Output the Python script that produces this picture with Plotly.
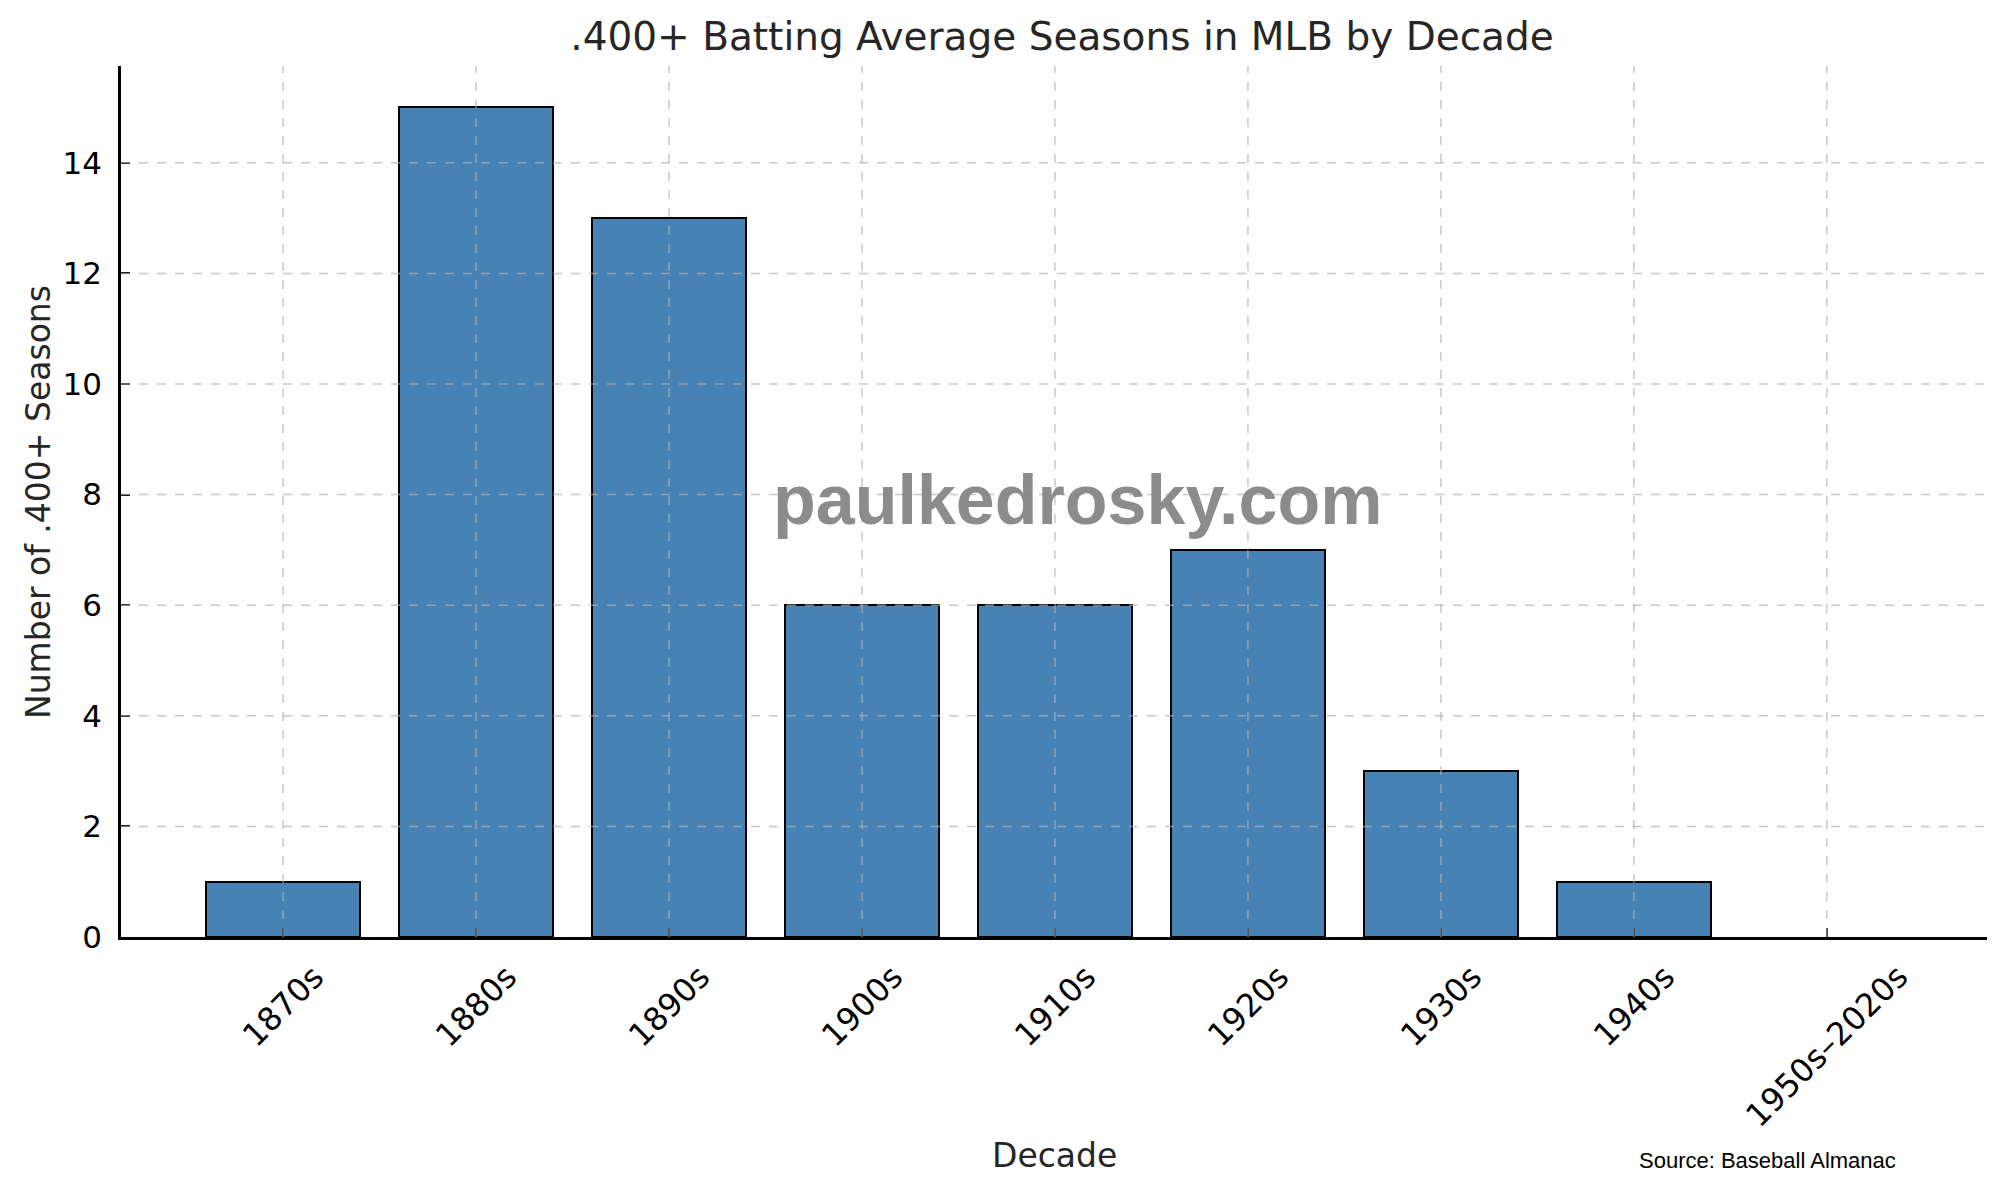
import plotly.graph_objects as go

decades = ["1870s", "1880s", "1890s", "1900s", "1910s", "1920s", "1930s", "1940s", "1950s–2020s"]
seasons = [1, 15, 13, 6, 6, 7, 3, 1, 0]
y_ticks = [0, 2, 4, 6, 8, 10, 12, 14]

FONT = "DejaVu Sans"
GRID = "rgba(176,176,176,0.7)"
xs = list(range(len(decades)))

fig = go.Figure(go.Bar(
    x=xs,
    y=seasons,
    width=0.8,
    marker=dict(color="#4682B4",
                line=dict(color="black", width=[2 if s > 0 else 0 for s in seasons])),
    hovertemplate="%{customdata}: %{y}<extra></extra>",
    customdata=decades,
))

# matplotlib draws its grid on top of the bars here, so use shapes
shapes = []
for i in xs:
    shapes.append(dict(type="line", xref="x", yref="paper", x0=i, x1=i, y0=0, y1=1,
                       line=dict(color=GRID, width=1.5, dash="dash"), layer="above"))
for v in y_ticks[1:]:
    shapes.append(dict(type="line", xref="paper", yref="y", x0=0, x1=1, y0=v, y1=v,
                       line=dict(color=GRID, width=1.5, dash="dash"), layer="above"))

# rotated tick labels centred on the ticks (matplotlib style)
tick_labels = [
    dict(text=lab, x=i, xref="x", y=0, yref="paper", yshift=-18,
         xanchor="center", yanchor="top", textangle=-45, showarrow=False,
         font=dict(size=32, color="black"))
    for i, lab in zip(xs, decades)
]

fig.update_layout(
    width=2000, height=1191,
    paper_bgcolor="white", plot_bgcolor="white",
    margin=dict(l=113, r=21, t=58, b=262, autoexpand=False),
    font=dict(family=FONT, color="black", size=31),
    title=dict(text=".400+ Batting Average Seasons in MLB by Decade",
               x=0.527, xanchor="center", y=0.9765, yanchor="middle",
               font=dict(size=39, color="#262626")),
    showlegend=False,
    bargap=0,
    shapes=shapes,
    xaxis=dict(
        range=[-0.84, 8.83], automargin=False, layer="above traces",
        tickmode="array", tickvals=xs, showticklabels=False,
        ticks="inside", ticklen=9, tickwidth=2, tickcolor="black",
        showgrid=False, zeroline=False,
        showline=True, linecolor="black", linewidth=2.5,
    ),
    yaxis=dict(
        range=[0, 15.75], automargin=False, layer="above traces",
        tickmode="array", tickvals=y_ticks,
        ticks="inside", ticklen=9, tickwidth=2, tickcolor="black",
        ticklabelstandoff=10,
        showgrid=False, zeroline=False,
        showline=True, linecolor="black", linewidth=2.5,
        tickfont=dict(size=31),
    ),
    annotations=tick_labels + [
        dict(text="Decade", xref="paper", yref="paper",
             x=0.5, y=-0.2514, xanchor="center", yanchor="middle", showarrow=False,
             font=dict(size=33, color="#262626")),
        dict(text="Number of .400+ Seasons", xref="paper", yref="paper", textangle=-90,
             x=-0.0445, y=0.4994, xanchor="center", yanchor="middle", showarrow=False,
             font=dict(size=33, color="#262626")),
        dict(text="<b>paulkedrosky.com</b>", xref="paper", yref="paper",
             x=0.513, y=0.502, xanchor="center", yanchor="middle", showarrow=False,
             font=dict(family="Liberation Sans", size=70, color="rgba(128,128,128,0.9)")),
        dict(text="Source: Baseball Almanac", xref="paper", yref="paper",
             x=0.8825, y=-0.257, xanchor="center", yanchor="middle", showarrow=False,
             font=dict(family="Liberation Sans", size=22, color="black")),
    ],
)

fig.write_html("out.html")
